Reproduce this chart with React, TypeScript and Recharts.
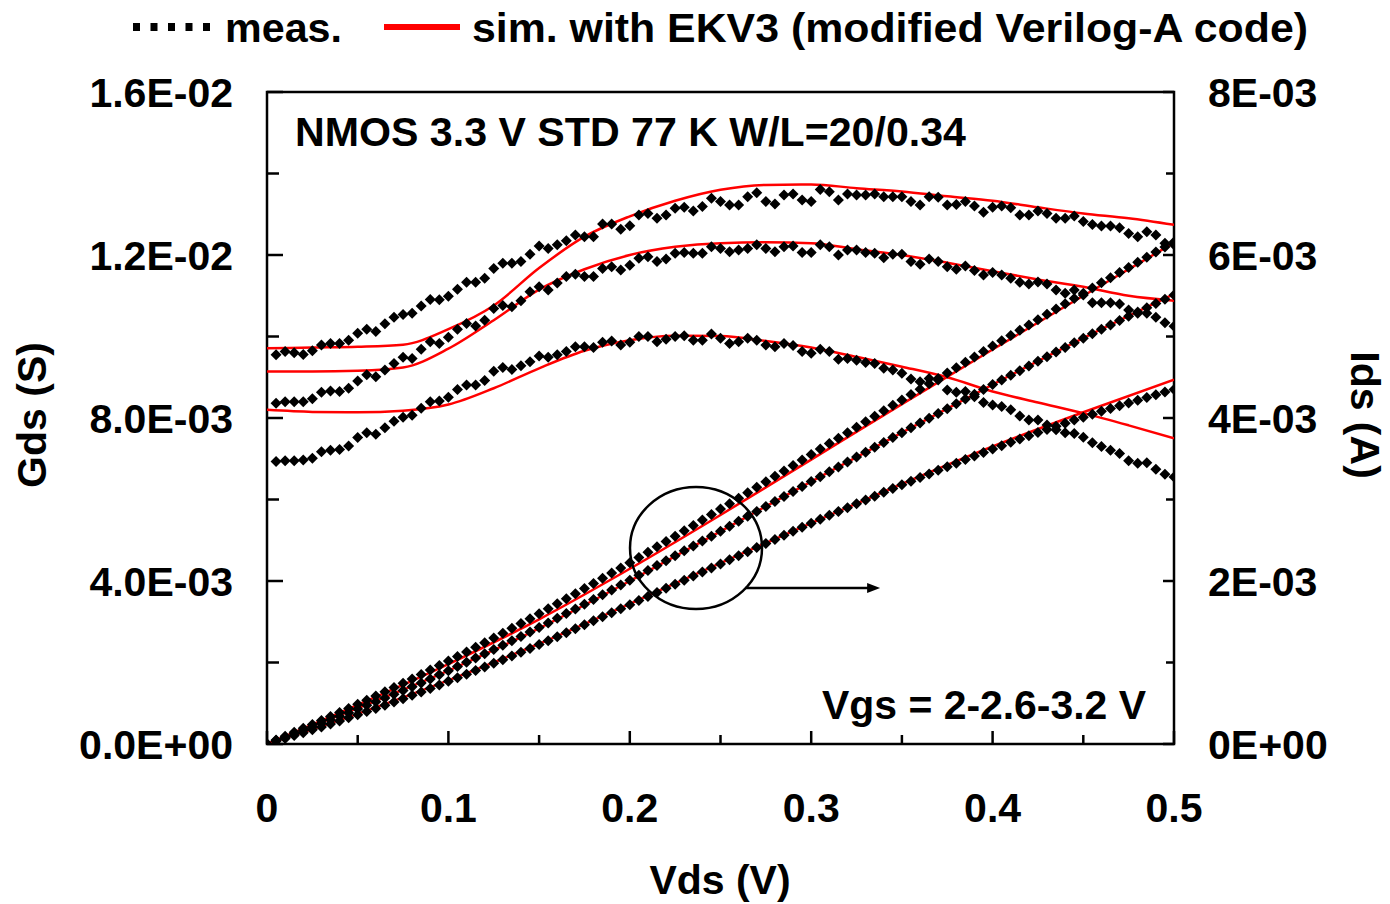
import React from "react";
import {
  LineChart,
  Line,
  XAxis,
  YAxis,
  ReferenceArea,
  ReferenceDot,
  ReferenceLine,
} from "recharts";

// ---------------- DATA ----------------
// Vds sweep (V): measured Gds starts at 0.005 V, measured Ids at 0 V, step 0.005 V
const VDS_STEP = 0.005;
const vdsGdsMeas: number[] = Array.from({ length: 100 }, (_, i) => +((i + 1) * VDS_STEP).toFixed(3));
const vdsIdsMeas: number[] = Array.from({ length: 101 }, (_, i) => +(i * VDS_STEP).toFixed(3));
// simulation sampling grids (V)
const vdsGdsSim: number[] = [0, 0.025, 0.05, 0.075, 0.1, 0.125, 0.15, 0.175, 0.2, 0.225, 0.25, 0.275, 0.3, 0.325, 0.35, 0.375, 0.4, 0.425, 0.45, 0.475, 0.5];
const vdsIdsSim: number[] = [0, 0.05, 0.1, 0.15, 0.2, 0.25, 0.3, 0.35, 0.4, 0.45, 0.5];

// measured Gds (mS) for Vgs = 3.2, 2.6, 2.0 V
const gdsMeasVgs32: number[] = [
  9.55, 9.63, 9.6, 9.56, 9.65, 9.79, 9.83, 9.83, 9.91, 10.08,
  10.18, 10.12, 10.31, 10.47, 10.54, 10.57, 10.75, 10.91, 10.9, 10.99,
  11.16, 11.33, 11.33, 11.43, 11.67, 11.8, 11.8, 11.84, 12.02, 12.22,
  12.16, 12.25, 12.35, 12.49, 12.45, 12.45, 12.76, 12.76, 12.63, 12.72,
  12.98, 13.02, 12.9, 12.98, 13.15, 13.17, 13.08, 13.19, 13.39, 13.31,
  13.23, 13.23, 13.43, 13.53, 13.31, 13.25, 13.47, 13.5, 13.35, 13.31,
  13.61, 13.55, 13.35, 13.5, 13.47, 13.47, 13.5, 13.43, 13.43, 13.43,
  13.31, 13.23, 13.43, 13.42, 13.23, 13.24, 13.31, 13.2, 13.05, 13.17,
  13.2, 13.16, 12.98, 12.98, 13.08, 13.02, 12.9, 12.9, 12.96, 12.82,
  12.75, 12.71, 12.71, 12.67, 12.53, 12.45, 12.57, 12.49, 12.29, 12.25,
];
const gdsMeasVgs26: number[] = [
  8.36, 8.4, 8.4, 8.4, 8.47, 8.63, 8.66, 8.65, 8.73, 8.91,
  9.06, 9.01, 9.18, 9.34, 9.49, 9.46, 9.69, 9.87, 9.83, 9.98,
  10.18, 10.32, 10.26, 10.4, 10.69, 10.76, 10.73, 10.88, 11.1, 11.22,
  11.14, 11.31, 11.47, 11.53, 11.47, 11.47, 11.67, 11.71, 11.63, 11.75,
  11.92, 11.96, 11.84, 11.9, 12.04, 12.06, 12.04, 12.04, 12.2, 12.16,
  12.08, 12.12, 12.16, 12.25, 12.16, 12.08, 12.2, 12.22, 12.06, 12.06,
  12.25, 12.2, 12.0, 12.12, 12.12, 12.06, 12.04, 11.93, 12.02, 12.02,
  11.84, 11.77, 11.9, 11.84, 11.71, 11.65, 11.73, 11.62, 11.51, 11.57,
  11.51, 11.43, 11.33, 11.29, 11.34, 11.29, 11.14, 11.06, 11.14, 11.02,
  10.83, 10.83, 10.83, 10.8, 10.65, 10.57, 10.57, 10.47, 10.34, 10.25,
];
const gdsMeasVgs20: number[] = [
  6.93, 6.95, 6.95, 6.97, 7.01, 7.17, 7.21, 7.23, 7.31, 7.52,
  7.64, 7.6, 7.76, 7.92, 8.02, 8.07, 8.24, 8.4, 8.42, 8.51,
  8.7, 8.81, 8.81, 8.92, 9.15, 9.24, 9.19, 9.28, 9.38, 9.52,
  9.49, 9.55, 9.63, 9.75, 9.75, 9.73, 9.86, 9.89, 9.79, 9.86,
  10.0, 10.0, 9.87, 9.93, 10.0, 10.02, 9.91, 9.91, 10.06, 9.96,
  9.83, 9.87, 9.96, 9.91, 9.79, 9.75, 9.83, 9.78, 9.63, 9.59,
  9.69, 9.63, 9.44, 9.46, 9.42, 9.36, 9.34, 9.22, 9.18, 9.1,
  8.96, 8.89, 8.97, 8.93, 8.69, 8.63, 8.65, 8.52, 8.38, 8.32,
  8.28, 8.2, 8.05, 7.95, 7.95, 7.83, 7.71, 7.64, 7.62, 7.53,
  7.39, 7.3, 7.21, 7.13, 6.95, 6.89, 6.9, 6.74, 6.62, 6.55,
];

// measured Ids (mA)
const idsMeasVgs32: number[] = [
  0, 0.048, 0.096, 0.144, 0.192, 0.24, 0.289, 0.338, 0.387, 0.437, 0.487,
  0.538, 0.589, 0.641, 0.693, 0.746, 0.799, 0.853, 0.907, 0.962, 1.017,
  1.073, 1.129, 1.186, 1.243, 1.301, 1.36, 1.419, 1.478, 1.538, 1.599,
  1.66, 1.721, 1.783, 1.845, 1.907, 1.97, 2.033, 2.097, 2.16, 2.224,
  2.289, 2.354, 2.419, 2.484, 2.55, 2.616, 2.682, 2.748, 2.815, 2.882,
  2.949, 3.016, 3.083, 3.15, 3.217, 3.284, 3.351, 3.418, 3.485, 3.552,
  3.619, 3.686, 3.753, 3.82, 3.887, 3.954, 4.021, 4.088, 4.155, 4.222,
  4.288, 4.354, 4.42, 4.486, 4.552, 4.618, 4.684, 4.75, 4.816, 4.882,
  4.947, 5.012, 5.077, 5.142, 5.207, 5.272, 5.337, 5.402, 5.467, 5.532,
  5.595, 5.658, 5.721, 5.784, 5.847, 5.91, 5.973, 6.036, 6.099, 6.16,
];
const idsMeasVgs26: number[] = [
  0, 0.042, 0.084, 0.126, 0.168, 0.211, 0.254, 0.297, 0.34, 0.384, 0.43,
  0.474, 0.518, 0.563, 0.609, 0.656, 0.703, 0.75, 0.799, 0.849, 0.9,
  0.951, 1.003, 1.055, 1.107, 1.16, 1.213, 1.266, 1.32, 1.375, 1.43,
  1.486, 1.543, 1.6, 1.657, 1.715, 1.773, 1.831, 1.89, 1.95, 2.01,
  2.07, 2.13, 2.19, 2.25, 2.31, 2.37, 2.43, 2.49, 2.55, 2.61,
  2.671, 2.732, 2.793, 2.854, 2.915, 2.976, 3.037, 3.098, 3.159, 3.22,
  3.28, 3.34, 3.4, 3.46, 3.52, 3.58, 3.64, 3.7, 3.76, 3.82,
  3.879, 3.938, 3.997, 4.056, 4.115, 4.174, 4.233, 4.292, 4.351, 4.41,
  4.467, 4.524, 4.581, 4.638, 4.695, 4.752, 4.809, 4.866, 4.923, 4.98,
  5.034, 5.088, 5.142, 5.195, 5.248, 5.3, 5.352, 5.404, 5.456, 5.508,
];
const idsMeasVgs20: number[] = [
  0, 0.034, 0.069, 0.104, 0.139, 0.174, 0.21, 0.246, 0.283, 0.321, 0.36,
  0.398, 0.437, 0.476, 0.516, 0.556, 0.597, 0.639, 0.681, 0.725, 0.77,
  0.813, 0.857, 0.901, 0.945, 0.99, 1.035, 1.08, 1.126, 1.173, 1.22,
  1.268, 1.316, 1.364, 1.413, 1.462, 1.511, 1.561, 1.61, 1.66, 1.71,
  1.76, 1.81, 1.86, 1.91, 1.96, 2.01, 2.06, 2.11, 2.16, 2.21,
  2.26, 2.31, 2.36, 2.41, 2.46, 2.51, 2.56, 2.61, 2.66, 2.71,
  2.758, 2.806, 2.853, 2.9, 2.947, 2.994, 3.041, 3.088, 3.134, 3.18,
  3.225, 3.27, 3.314, 3.358, 3.402, 3.446, 3.49, 3.534, 3.577, 3.62,
  3.661, 3.702, 3.742, 3.782, 3.821, 3.86, 3.899, 3.937, 3.974, 4.01,
  4.046, 4.082, 4.117, 4.151, 4.185, 4.219, 4.252, 4.285, 4.318, 4.35,
];

// simulated Gds (mS), EKV3
const gdsSimVgs32: number[] = [9.71, 9.73, 9.75, 9.8, 10.18, 10.76, 11.68, 12.45, 12.95, 13.33, 13.6, 13.72, 13.73, 13.64, 13.56, 13.44, 13.33, 13.17, 13.02, 12.9, 12.74];
const gdsSimVgs26: number[] = [9.14, 9.14, 9.16, 9.24, 9.7, 10.4, 11.15, 11.65, 12.0, 12.2, 12.29, 12.31, 12.29, 12.14, 12.0, 11.81, 11.6, 11.4, 11.22, 11.0, 10.88];
const gdsSimVgs20: number[] = [8.2, 8.15, 8.14, 8.18, 8.33, 8.73, 9.22, 9.65, 9.91, 10.02, 10.01, 9.89, 9.73, 9.5, 9.26, 9.0, 8.65, 8.38, 8.12, 7.82, 7.5];
// simulated Ids (mA)
const idsSimVgs32: number[] = [0, 0.48, 0.98, 1.53, 2.15, 2.81, 3.49, 4.17, 4.84, 5.5, 6.15];
const idsSimVgs26: number[] = [0, 0.44, 0.9, 1.42, 2.0, 2.61, 3.22, 3.82, 4.41, 4.98, 5.52];
const idsSimVgs20: number[] = [0, 0.37, 0.78, 1.23, 1.72, 2.22, 2.71, 3.19, 3.65, 4.07, 4.47];

// axis ticks
const xTicks: number[] = [0, 0.05, 0.1, 0.15, 0.2, 0.25, 0.3, 0.35, 0.4, 0.45, 0.5];
const xLabelValues: number[] = [0, 0.1, 0.2, 0.3, 0.4, 0.5];
const xLabels: string[] = ["0", "0.1", "0.2", "0.3", "0.4", "0.5"];
const leftTicks: number[] = [0, 2, 4, 6, 8, 10, 12, 14, 16]; // mS
const leftLabelValues: number[] = [0, 4, 8, 12, 16];
const leftLabels: string[] = ["0.0E+00", "4.0E-03", "8.0E-03", "1.2E-02", "1.6E-02"];
const rightTicks: number[] = [0, 1, 2, 3, 4, 5, 6, 7, 8]; // mA
const rightLabelValues: number[] = [0, 2, 4, 6, 8];
const rightLabels: string[] = ["0E+00", "2E-03", "4E-03", "6E-03", "8E-03"];

// annotations
const circleCenter = { vds: 0.2365, ids: 2.405 };
const arrow = { vdsFrom: 0.2635, vdsTo: 0.338, ids: 1.914 };

// ---------------- HELPERS ----------------
const FONT = '"Liberation Sans", Arial, Helvetica, sans-serif';
const FS = 41;

const toPts = (xs: number[], ys: number[]) => ys.map((y, i) => ({ x: xs[i], y }));

const Diamond = (props: any) => {
  const { cx, cy, index } = props;
  if (cx == null || cy == null) return <g key={index} />;
  const h = 5.5;
  return (
    <path
      key={index}
      d={`M${cx},${cy - h}L${cx + h},${cy}L${cx},${cy + h}L${cx - h},${cy}Z`}
      fill="#000"
    />
  );
};

const LeftTick = (props: any) => {
  const { x, y, payload } = props;
  const idx = leftLabelValues.indexOf(payload.value);
  const len = idx >= 0 ? 16 : 12;
  return (
    <g>
      <line x1={x} y1={y} x2={x + len} y2={y} stroke="#000" strokeWidth={2.5} />
      {idx >= 0 && (
        <text x={x - 34} y={y + 15} textAnchor="end" fontFamily={FONT} fontWeight="bold" fontSize={FS} fill="#000">
          {leftLabels[idx]}
        </text>
      )}
    </g>
  );
};

const RightTick = (props: any) => {
  const { x, y, payload } = props;
  const idx = rightLabelValues.indexOf(payload.value);
  const len = idx >= 0 ? 11 : 8;
  return (
    <g>
      <line x1={x} y1={y} x2={x - len} y2={y} stroke="#000" strokeWidth={2.5} />
      {idx >= 0 && (
        <text x={x + 34} y={y + 15} textAnchor="start" fontFamily={FONT} fontWeight="bold" fontSize={FS} fill="#000">
          {rightLabels[idx]}
        </text>
      )}
    </g>
  );
};

const BottomTick = (props: any) => {
  const { x, y, payload } = props;
  const idx = xLabelValues.findIndex((v) => Math.abs(v - payload.value) < 1e-9);
  const len = idx >= 0 ? 13 : 9;
  return (
    <g>
      <line x1={x} y1={y} x2={x} y2={y - len} stroke="#000" strokeWidth={2.5} />
      {idx >= 0 && (
        <text x={x} y={y + 78} textAnchor="middle" fontFamily={FONT} fontWeight="bold" fontSize={FS} fill="#000">
          {xLabels[idx]}
        </text>
      )}
    </g>
  );
};

const measSeries = [
  { name: "gds32", axis: "left", xs: vdsGdsMeas, ys: gdsMeasVgs32 },
  { name: "gds26", axis: "left", xs: vdsGdsMeas, ys: gdsMeasVgs26 },
  { name: "gds20", axis: "left", xs: vdsGdsMeas, ys: gdsMeasVgs20 },
  { name: "ids32", axis: "right", xs: vdsIdsMeas, ys: idsMeasVgs32 },
  { name: "ids26", axis: "right", xs: vdsIdsMeas, ys: idsMeasVgs26 },
  { name: "ids20", axis: "right", xs: vdsIdsMeas, ys: idsMeasVgs20 },
];
const simSeries = [
  { name: "sgds32", axis: "left", xs: vdsGdsSim, ys: gdsSimVgs32 },
  { name: "sgds26", axis: "left", xs: vdsGdsSim, ys: gdsSimVgs26 },
  { name: "sgds20", axis: "left", xs: vdsGdsSim, ys: gdsSimVgs20 },
  { name: "sids32", axis: "right", xs: vdsIdsSim, ys: idsSimVgs32 },
  { name: "sids26", axis: "right", xs: vdsIdsSim, ys: idsSimVgs26 },
  { name: "sids20", axis: "right", xs: vdsIdsSim, ys: idsSimVgs20 },
];

export default function App() {
  const W = 1390;
  const H = 904;
  return (
    <div style={{ position: "absolute", left: 0, top: 0, width: W, height: H, background: "#fff" }}>
      <LineChart width={W} height={H} margin={{ top: 92, right: 0, bottom: 0, left: 0 }}>
        <XAxis
          type="number"
          dataKey="x"
          domain={[0, 0.5]}
          ticks={xTicks}
          height={160}
          axisLine={false}
          tickLine={false}
          tickSize={0}
          tickMargin={0}
          tick={<BottomTick />}
          allowDataOverflow
        />
        <YAxis
          yAxisId="left"
          orientation="left"
          type="number"
          domain={[0, 16]}
          ticks={leftTicks}
          width={267}
          axisLine={false}
          tickLine={false}
          tickSize={0}
          tickMargin={0}
          tick={<LeftTick />}
          allowDataOverflow
        />
        <YAxis
          yAxisId="right"
          orientation="right"
          type="number"
          domain={[0, 8]}
          ticks={rightTicks}
          width={216}
          axisLine={false}
          tickLine={false}
          tickSize={0}
          tickMargin={0}
          tick={<RightTick />}
          allowDataOverflow
        />
        <ReferenceArea
          yAxisId="left"
          x1={0}
          x2={0.5}
          y1={0}
          y2={16}
          fill="none"
          fillOpacity={0}
          stroke="#000"
          strokeWidth={2.5}
        />
        {measSeries.map((s) => (
          <Line
            key={s.name}
            yAxisId={s.axis}
            data={toPts(s.xs, s.ys)}
            dataKey="y"
            stroke="none"
            dot={<Diamond />}
            activeDot={false}
            isAnimationActive={false}
            legendType="none"
          />
        ))}
        {simSeries.map((s) => (
          <Line
            key={s.name}
            yAxisId={s.axis}
            data={toPts(s.xs, s.ys)}
            dataKey="y"
            type="monotone"
            stroke="#ff0000"
            strokeWidth={2.5}
            dot={false}
            activeDot={false}
            isAnimationActive={false}
            legendType="none"
          />
        ))}
        <ReferenceDot
          yAxisId="right"
          x={circleCenter.vds}
          y={circleCenter.ids}
          r={1}
          shape={(p: any) => (
            <ellipse cx={p.cx} cy={p.cy} rx={66} ry={61} fill="none" stroke="#000" strokeWidth={2.5} />
          )}
        />
        <ReferenceLine
          yAxisId="right"
          segment={[
            { x: arrow.vdsFrom, y: arrow.ids },
            { x: arrow.vdsTo - 0.004, y: arrow.ids },
          ]}
          stroke="#000"
          strokeWidth={2.5}
        />
        <ReferenceDot
          yAxisId="right"
          x={arrow.vdsTo}
          y={arrow.ids}
          r={1}
          shape={(p: any) => (
            <path d={`M${p.cx},${p.cy}L${p.cx - 13},${p.cy - 5}L${p.cx - 13},${p.cy + 5}Z`} fill="#000" />
          )}
        />
      </LineChart>
      <svg
        width={W}
        height={H}
        style={{ position: "absolute", left: 0, top: 0, pointerEvents: "none" }}
      >
        {/* legend */}
        {[133, 150.5, 168, 185.5, 203].map((x) => (
          <rect key={x} x={x} y={23} width={7} height={8} fill="#000" />
        ))}
        <text x={225} y={42} fontFamily={FONT} fontWeight="bold" fontSize={FS} fill="#000" textLength={117} lengthAdjust="spacingAndGlyphs">
          meas.
        </text>
        <line x1={384} y1={27} x2={460} y2={27} stroke="#ff0000" strokeWidth={6} />
        <text x={472} y={42} fontFamily={FONT} fontWeight="bold" fontSize={FS} fill="#000" textLength={836} lengthAdjust="spacingAndGlyphs">
          sim. with EKV3 (modified Verilog-A code)
        </text>
        {/* annotations */}
        <text x={295} y={146} fontFamily={FONT} fontWeight="bold" fontSize={FS} fill="#000" textLength={671} lengthAdjust="spacingAndGlyphs">
          NMOS 3.3 V STD 77 K W/L=20/0.34
        </text>
        <text x={822} y={719} fontFamily={FONT} fontWeight="bold" fontSize={FS} fill="#000" textLength={324} lengthAdjust="spacingAndGlyphs">
          Vgs = 2-2.6-3.2 V
        </text>
        {/* axis titles */}
        <text x={720} y={894} textAnchor="middle" fontFamily={FONT} fontWeight="bold" fontSize={FS} fill="#000">
          Vds (V)
        </text>
        <text
          x={0}
          y={0}
          transform="translate(46,415) rotate(-90)"
          textAnchor="middle"
          fontFamily={FONT}
          fontWeight="bold"
          fontSize={FS}
          fill="#000"
        >
          Gds (S)
        </text>
        <text
          x={0}
          y={0}
          transform="translate(1351,415) rotate(90)"
          textAnchor="middle"
          fontFamily={FONT}
          fontWeight="bold"
          fontSize={FS}
          fill="#000"
        >
          Ids (A)
        </text>
      </svg>
    </div>
  );
}
